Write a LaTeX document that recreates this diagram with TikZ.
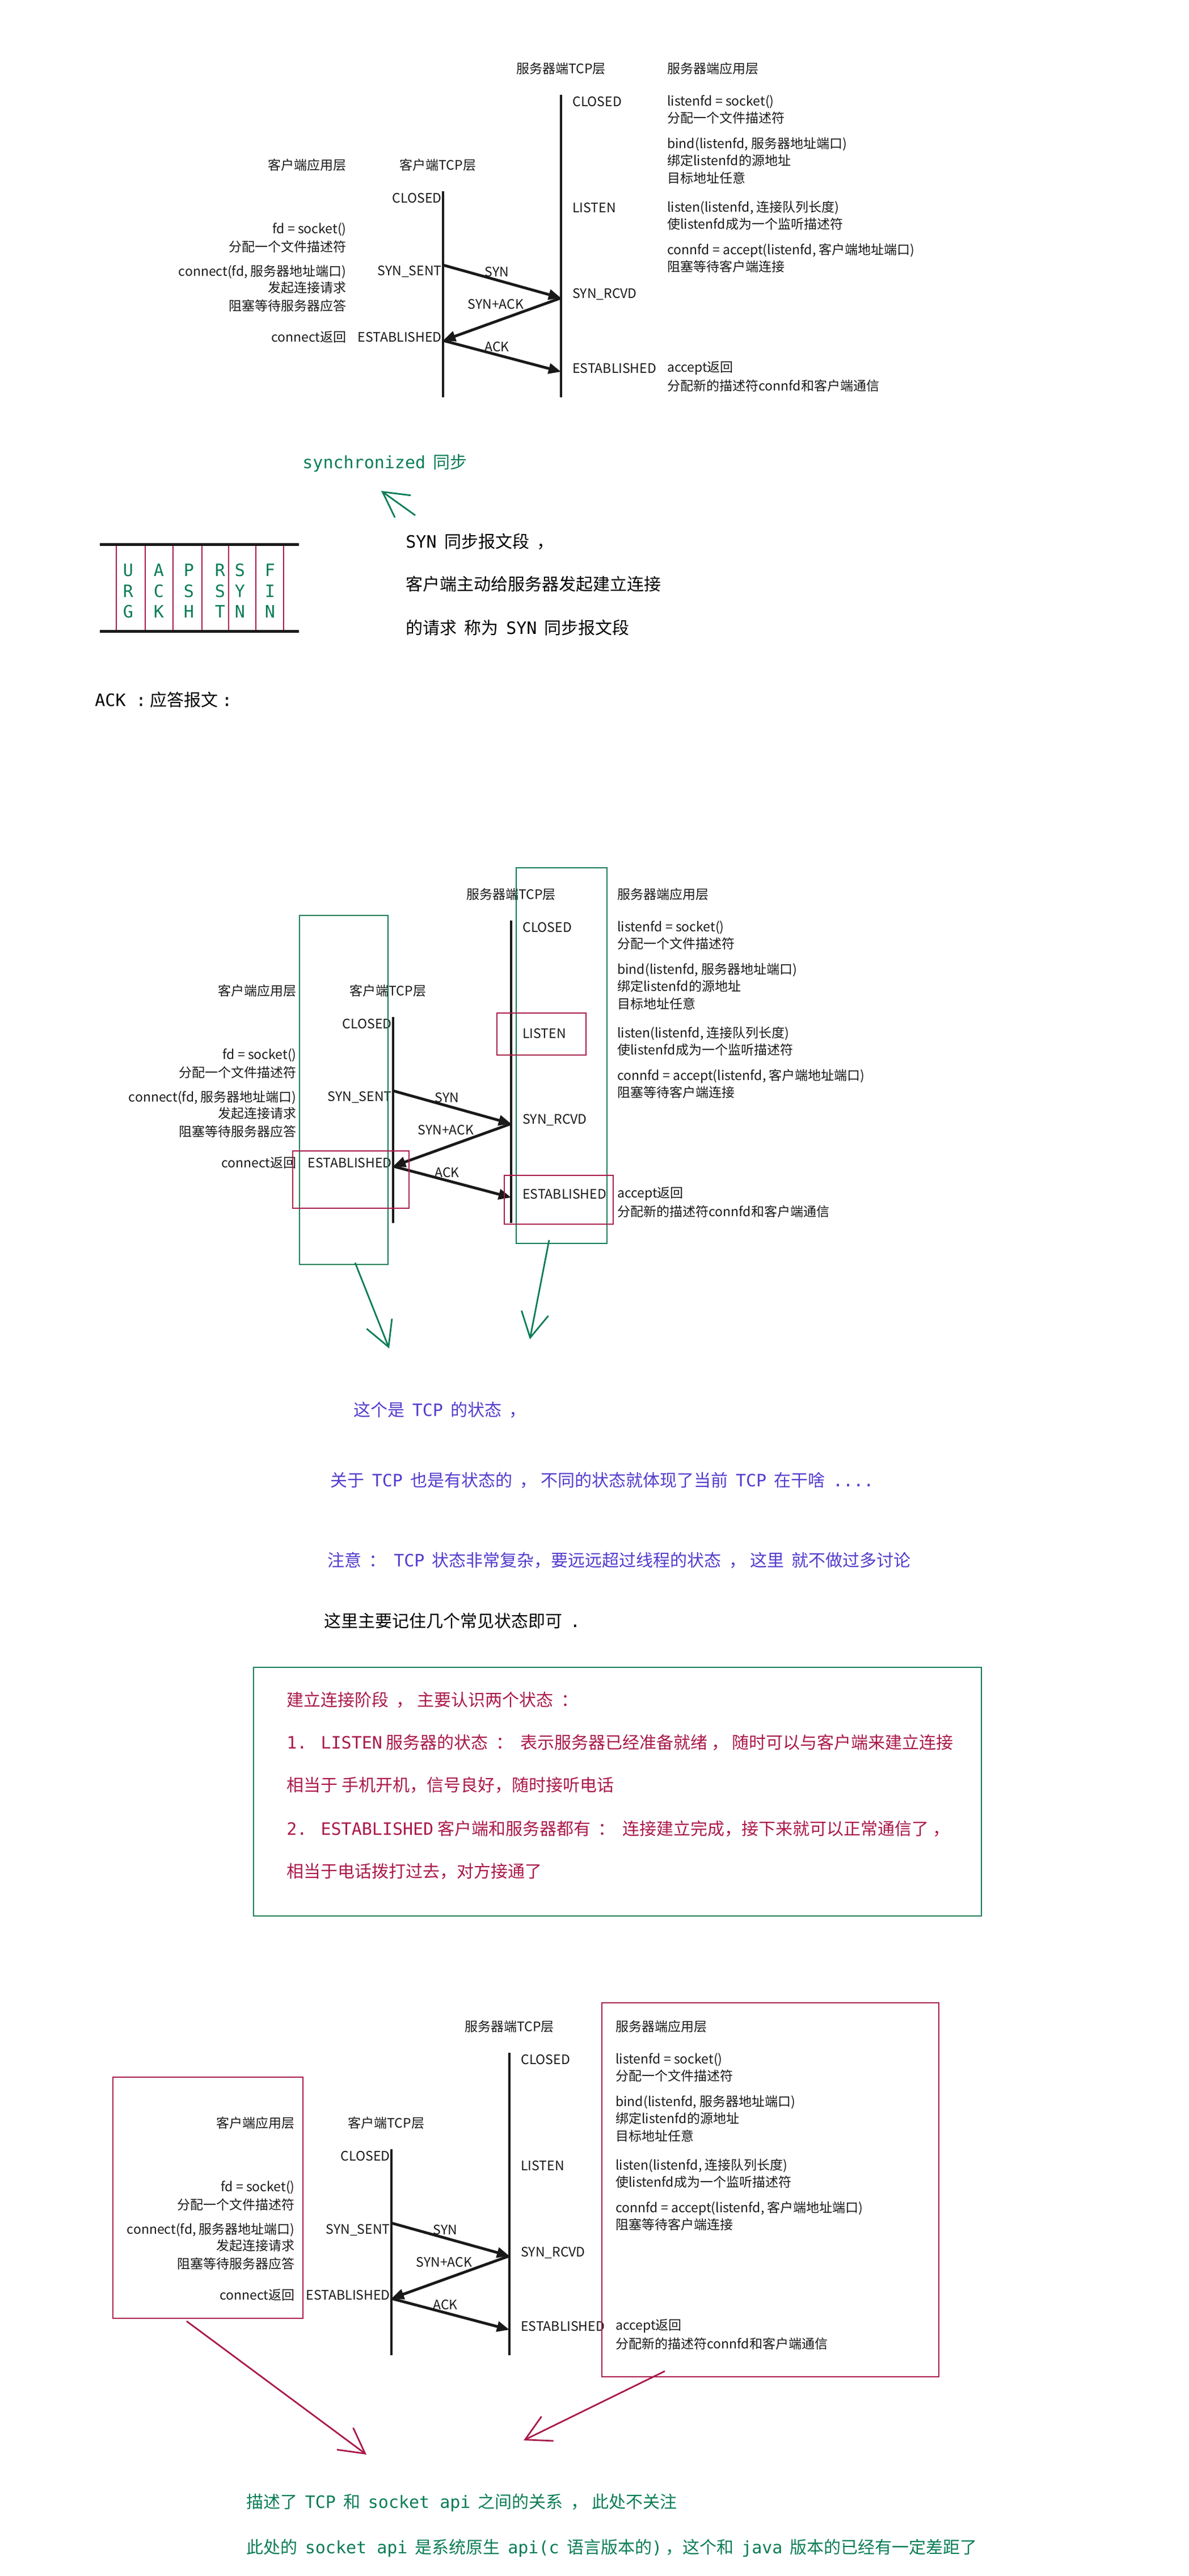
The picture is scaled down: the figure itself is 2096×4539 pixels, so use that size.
\documentclass[tikz,border=0pt]{standalone}
\usepackage{fontspec}
\setmainfont{Noto Sans CJK SC}
\newfontfamily\monof{DejaVu Sans Mono}
\newfontfamily\cjkf{Noto Sans CJK SC}
\usetikzlibrary{arrows.meta}
\definecolor{dgreen}{RGB}{10,125,85}
\definecolor{dred}{RGB}{170,25,75}
\definecolor{purp}{RGB}{85,60,205}
\definecolor{dgray}{RGB}{25,25,25}
\tikzset{
  dg/.style={font=\cjkf\fontsize{11.5}{13}\selectfont, inner sep=0pt, text=dgray},
  tl/.style={line width=1.8pt, draw=dgray},
  msg/.style={line width=2.4pt, draw=dgray, -{Triangle[length=11pt,width=9pt]}},
  note/.style={font=\cjkf\fontsize{15}{18}\selectfont, inner sep=0pt, anchor=west},
  flag/.style={font=\monof\fontsize{15}{17}\selectfont, inner sep=0pt, text=dgreen},
  gbox/.style={draw=dgreen, line width=1.4pt},
  rbox/.style={draw=dred, line width=1.4pt},
  hand/.style={line width=1.4pt, -{Straight Barb[length=22pt,width=24pt]}},
}
\newcommand\mf[1]{{\monof #1}}
\newcommand\tcpdiag[3]{%
\begin{scope}[shift={(#2,#3)}]
\node[dg] (#1h1) at (989,121) {服务器端TCP层};
\node[dg,anchor=west] (#1h2) at (1176,121) {服务器端应用层};
\node[dg,anchor=east] (#1h3) at (611,291) {客户端应用层};
\node[dg] (#1h4) at (772,291) {客户端TCP层};
\coordinate (#1st) at (989,167); \coordinate (#1sb) at (989,700);
\coordinate (#1ct) at (781,337); \coordinate (#1cb) at (781,700);
\draw[tl] (#1st) -- (#1sb);
\draw[tl] (#1ct) -- (#1cb);
\node[dg,anchor=west] (#1s1) at (1009,179) {CLOSED};
\node[dg,anchor=west] (#1s2) at (1009,366) {LISTEN};
\node[dg,anchor=west] (#1s3) at (1009,519) {SYN\_RCVD};
\node[dg,anchor=west] (#1s4) at (1009,649) {ESTABLISHED};
\node[dg,anchor=west] (#1a1) at (1176,179) {listenfd = socket()};
\node[dg,anchor=west] (#1a2) at (1176,208) {分配一个文件描述符};
\node[dg,anchor=west] (#1a3) at (1176,254) {bind(listenfd, 服务器地址端口)};
\node[dg,anchor=west] (#1a4) at (1176,283) {绑定listenfd的源地址};
\node[dg,anchor=west] (#1a5) at (1176,314) {目标地址任意};
\node[dg,anchor=west] (#1a6) at (1176,366) {listen(listenfd, 连接队列长度)};
\node[dg,anchor=west] (#1a7) at (1176,395) {使listenfd成为一个监听描述符};
\node[dg,anchor=west] (#1a8) at (1176,441) {connfd = accept(listenfd, 客户端地址端口)};
\node[dg,anchor=west] (#1a9) at (1176,470) {阻塞等待客户端连接};
\node[dg,anchor=west] (#1a10) at (1176,649) {accept返回};
\node[dg,anchor=west] (#1a11) at (1176,680) {分配新的描述符connfd和客户端通信};
\node[dg,anchor=east] (#1c1) at (779,349) {CLOSED};
\node[dg,anchor=east] (#1c2) at (779,479) {SYN\_SENT};
\node[dg,anchor=east] (#1c3) at (779,594) {ESTABLISHED};
\node[dg,anchor=east] (#1b1) at (611,404) {fd = socket()};
\node[dg,anchor=east] (#1b2) at (611,435) {分配一个文件描述符};
\node[dg,anchor=east] (#1b3) at (611,479) {connect(fd, 服务器地址端口)};
\node[dg,anchor=east] (#1b4) at (611,507) {发起连接请求};
\node[dg,anchor=east] (#1b5) at (611,539) {阻塞等待服务器应答};
\node[dg,anchor=east] (#1b6) at (611,594) {connect返回};
\coordinate (#1p1) at (781,467); \coordinate (#1p2) at (989,525);
\coordinate (#1p3) at (781,600); \coordinate (#1p4) at (989,655);
\draw[msg] (#1p1) -- (#1p2);
\draw[msg] (#1p2) -- (#1p3);
\draw[msg] (#1p3) -- (#1p4);
\node[dg] (#1m1) at (876,479) {SYN};
\node[dg] (#1m2) at (874,536) {SYN+ACK};
\node[dg] (#1m3) at (876,611) {ACK};
\end{scope}}
\begin{document}
\begin{tikzpicture}[x=0.5pt,y=-0.5pt]
\useasboundingbox[fill=white] (0,0) rectangle (2096,4539);
% ---------- diagram 1
\tcpdiag{d1}{0}{0}
% ---------- synchronized
\node[note,text=dgreen] (sync) at (533,816) {\mf{synchronized}\ \ 同步};
\coordinate (sa1) at (732,908); \coordinate (sa2) at (672,865);
\draw[hand,dgreen] (sa1) -- (sa2);
% flags
\coordinate (fl1) at (176,959); \coordinate (fr1) at (527,959);
\coordinate (fl2) at (176,1112); \coordinate (fr2) at (527,1112);
\foreach \a/\b in {205/256,256/305,305/356,356/403,403/451,451/500}
  \draw[rbox] (\a,959) rectangle (\b,1112);
\draw[line width=2.5pt,draw=dgray] (fl1) -- (fr1);
\draw[line width=2.5pt,draw=dgray] (fl2) -- (fr2);
\foreach \x/\p/\q/\r [count=\i] in {226/U/R/G,280/A/C/K,333/P/S/H,388/R/S/T,423/S/Y/N,476/F/I/N}{
  \node[flag] (fa\i) at (\x,1005) {\p};
  \node[flag] (fb\i) at (\x,1042) {\q};
  \node[flag] (fc\i) at (\x,1078) {\r};
}
\node[note] (n1) at (715,954) {\mf{SYN}\ \ 同步报文段\ \ ，};
\node[note] (n2) at (715,1029) {客户端主动给服务器发起建立连接};
\node[note] (n3) at (715,1106) {的请求\ \ 称为\ \ \mf{SYN}\ \ 同步报文段};
\node[note] (n4) at (167,1233) {\mf{ACK :}\ 应答报文\ \mf{:}};
% ---------- diagram 2
\tcpdiag{d2}{-88}{1455}
\draw[gbox] (528,1613) rectangle (684,2228);
\draw[gbox] (910,1529) rectangle (1070,2191);
\draw[rbox] (876,1785) rectangle (1033,1859);
\draw[rbox] (516,2028) rectangle (721,2129);
\draw[rbox] (889,2071) rectangle (1081,2157);
\coordinate (g1a) at (626,2225); \coordinate (g1b) at (686,2376);
\coordinate (g2a) at (968,2185); \coordinate (g2b) at (934,2360);
\draw[hand,dgreen] (g1a) -- (g1b);
\draw[hand,dgreen] (g2a) -- (g2b);
\node[note,text=purp] (t1) at (623,2484) {这个是\ \ \mf{TCP}\ \ 的状态\ \ ，};
\node[note,text=purp] (t2) at (582,2608) {关于\ \ \mf{TCP}\ \ 也是有状态的\ \ ，\ 不同的状态就体现了当前\ \ \mf{TCP}\ \ 在干啥\ \ \mf{....}};
\node[note,text=purp] (t3) at (577,2749) {注意\ \ ：\ \ \mf{TCP}\ \ 状态非常复杂，要远远超过线程的状态\ \ ，\ 这里\ \ 就不做过多讨论};
\node[note] (t4) at (571,2856) {这里主要记住几个常见状态即可\ \ \mf{.}};
\draw[gbox] (447,2938) rectangle (1730,3376);
\node[note,text=dred] (r1) at (505,2995) {建立连接阶段\ \ ，\ 主要认识两个状态\ \ ：};
\node[note,text=dred] (r2) at (505,3070) {\mf{1. LISTEN}\ 服务器的状态\ \ ：\ \ 表示服务器已经准备就绪\ ，\ 随时可以与客户端来建立连接};
\node[note,text=dred] (r3) at (505,3145) {相当于\ 手机开机，信号良好，随时接听电话};
\node[note,text=dred] (r4) at (505,3222) {\mf{2. ESTABLISHED}\ 客户端和服务器都有\ \ ：\ \ 连接建立完成，接下来就可以正常通信了\ ，};
\node[note,text=dred] (r5) at (505,3297) {相当于电话拨打过去，对方接通了};
% ---------- diagram 3
\tcpdiag{d3}{-91}{3450}
\draw[rbox] (199,3660) rectangle (534,4085);
\draw[rbox] (1061,3529) rectangle (1655,4188);
\coordinate (k1a) at (329,4090); \coordinate (k1b) at (646,4325);
\coordinate (k2a) at (1172,4178); \coordinate (k2b) at (923,4300);
\draw[hand,dred] (k1a) -- (k1b);
\draw[hand,dred] (k2a) -- (k2b);
\node[note,text=dgreen] (b1) at (434,4410) {描述了\ \ \mf{TCP}\ \ 和\ \ \mf{socket api}\ \ 之间的关系\ \ ，\ 此处不关注};
\node[note,text=dgreen] (b2) at (434,4490) {此处的\ \ \mf{socket api}\ \ 是系统原生\ \ \mf{api(c}\ \ 语言版本的\mf{)}\ ，这个和\ \ \mf{java}\ \ 版本的已经有一定差距了};
\end{tikzpicture}
\end{document}
